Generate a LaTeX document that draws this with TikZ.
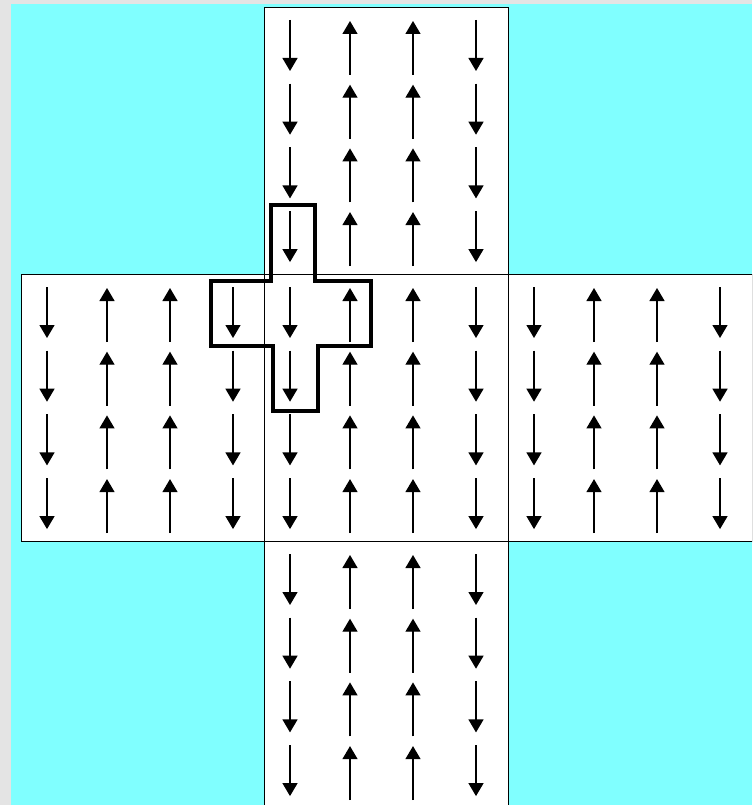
\documentclass[tikz,border=0pt]{standalone}
\usetikzlibrary{arrows.meta}
\definecolor{bggray}{HTML}{E4E4E4}
\definecolor{aqua}{HTML}{80FFFF}
\tikzset{
  cell/.style={draw=black, line width=0.9pt, fill=white, inner sep=0pt,
    minimum width=244pt, minimum height=267pt, anchor=north west},
  spin/.style={-{Triangle[width=15pt,length=13pt]}, line width=1.3pt, color=black},
  plaq/.style={draw=black, line width=3.6pt, line join=miter},
}

\begin{document}
\begin{tikzpicture}[x=1pt, y=-1pt]
  \useasboundingbox (0,0) rectangle (752,805);
  \clip (0,0) rectangle (752,805);
  \fill[bggray] (0,0) rectangle (752,805);
  \fill[aqua] (11,4) rectangle (752,805);
  % five blocks, each with 4x4 spins
  \foreach \sq/\ox/\oy in {top/264/7, left/21/274, mid/264/274, right/508/274, bot/264/541} {
    \node[cell] (\sq) at (\ox,\oy) {};
    \foreach \r in {0,...,3} {
      \foreach \cx in {26,212}
        \draw[spin] ({\ox+\cx},{\oy+13+63.7*\r}) -- ({\ox+\cx},{\oy+64+63.7*\r});
      \foreach \cx in {86,149}
        \draw[spin] ({\ox+\cx},{\oy+68+63.7*\r}) -- ({\ox+\cx},{\oy+14+63.7*\r});
    }
  }
  % plaquette outline
  \draw[plaq] (271,205) -- (315,205) -- (315,281) -- (371,281) -- (371,346)
    -- (318,346) -- (318,411) -- (273,411) -- (273,346) -- (211,346)
    -- (211,281) -- (271,281) -- cycle;
\end{tikzpicture}
\end{document}
